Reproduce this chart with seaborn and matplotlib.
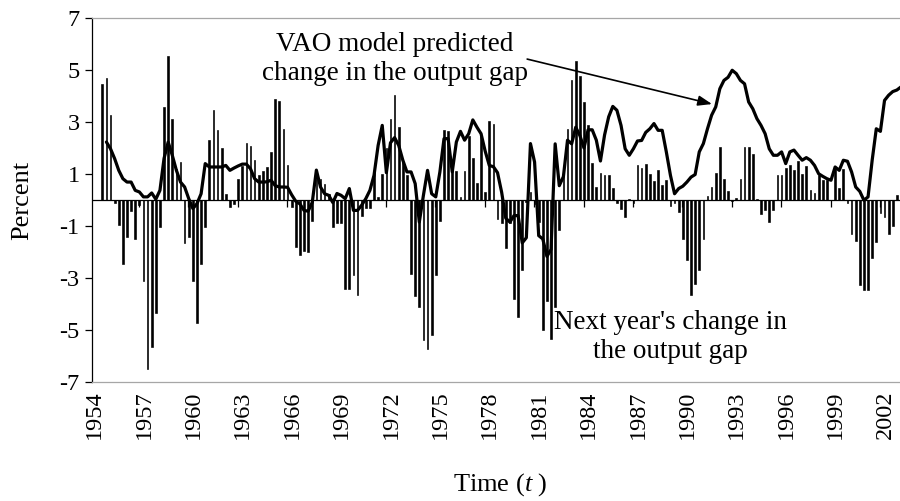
import numpy as np
import pandas as pd
import matplotlib
matplotlib.use("Agg")
import matplotlib.pyplot as plt
import seaborn as sns

nan = np.nan
# Quarterly series (index 0 = first quarter on the axis)
bars = [nan, 4.47, 4.69, 3.26, -0.1, -0.95, -2.45, -1.44, -0.41, -1.51,
        -0.2, -3.13, -6.49, -5.65, -4.35, -1.05, 3.56, 5.53, 3.13, 1.2,
        1.46, -1.65, -1.44, -3.13, -4.73, -2.45, -1.04, 2.29, 3.47, 2.68,
        2.0, 0.24, -0.27, -0.14, 0.82, 1.31, 2.2, 2.08, 1.53, 0.95,
        1.1, 1.27, 1.85, 3.88, 3.79, 2.74, 1.35, -0.28, -1.79, -2.12,
        -1.98, -2.0, -0.79, 0.8, 0.8, 0.62, 0.24, -1.04, -0.9, -0.9,
        -3.41, -3.41, -2.9, -3.64, -0.6, -0.3, -0.3, 1.08, 0.1, 1.0,
        2.0, 3.1, 4.05, 2.8, 1.46, 0.95, -2.83, -3.69, -4.12, -5.4,
        -5.72, -5.2, -2.9, -0.82, 2.68, 2.65, 1.4, 1.1, 0.1, 1.13,
        2.45, 1.6, 0.65, 2.5, 0.3, 3.03, 2.93, -0.73, -0.88, -1.86,
        -0.9, -3.8, -4.5, -2.7, -0.08, 0.3, -0.15, -0.85, -5.0, -3.9,
        -5.33, -4.1, -1.17, 1.0, 2.75, 4.62, 5.33, 4.78, 3.76, 2.9,
        1.42, 0.5, 1.02, 0.95, 0.95, 0.48, -0.1, -0.36, -0.65, 0.05,
        -0.1, 1.33, 1.23, 1.4, 1.0, 0.72, 1.17, 0.56, 0.76, -0.24,
        -0.1, -0.46, -1.49, -2.3, -3.67, -3.22, -2.7, -1.49, 0.15, 0.5,
        1.05, 2.04, 0.79, 0.33, -0.05, 0.08, 0.82, 2.04, 2.04, 1.78,
        0.02, -0.53, -0.4, -0.85, -0.4, 0.95, 0.95, 1.23, 1.33, 1.14,
        1.49, 1.0, 1.29, 0.4, 0.27, 0.95, 0.76, 0.76, 0.0, 1.2,
        0.47, 1.18, -0.1, -1.3, -1.58, -3.26, -3.45, -3.45, -2.23, -1.62,
        -0.49, -0.65, -1.31, -1.01, 0.18, 0.9]

vao = [nan, nan, 2.23, 1.97, 1.59, 1.14, 0.82, 0.69, 0.69, 0.37,
       0.31, 0.12, 0.12, 0.27, 0.03, 0.37, 1.6, 2.23, 1.72, 1.14,
       0.69, 0.5, 0.05, -0.33, -0.14, 0.24, 1.4, 1.27, 1.27, 1.27,
       1.27, 1.33, 1.14, 1.23, 1.31, 1.38, 1.38, 1.2, 0.82, 0.69,
       0.69, 0.7, 0.76, 0.55, 0.5, 0.5, 0.49, 0.2, -0.05, -0.15,
       -0.4, -0.43, -0.09, 1.15, 0.5, 0.24, 0.18, -0.1, 0.25, 0.18,
       0.05, 0.44, -0.4, -0.4, -0.2, 0.05, 0.37, 0.95, 2.1, 2.87,
       1.05, 2.2, 2.4, 2.1, 1.53, 1.08, 1.08, 0.63, -0.85, 0.18,
       1.14, 0.24, 0.12, 1.08, 2.36, 2.36, 1.08, 2.23, 2.64, 2.3,
       2.55, 3.08, 2.8, 2.55, 1.88, 1.33, 1.28, 1.05, 0.3, -0.7,
       -0.85, -0.6, -0.6, -1.65, -1.45, 2.17, 1.46, -1.37, -1.5, -2.17,
       -1.9, 2.16, 0.55, 0.9, 2.3, 2.16, 2.8, 2.48, 2.0, 2.7,
       2.7, 2.3, 1.5, 2.5, 3.2, 3.6, 3.45, 2.87, 1.97, 1.72,
       1.97, 2.27, 2.29, 2.6, 2.74, 2.94, 2.68, 2.68, 1.85, 0.95,
       0.24, 0.44, 0.53, 0.69, 0.88, 0.98, 1.85, 2.17, 2.74, 3.26,
       3.58, 4.28, 4.6, 4.72, 4.99, 4.86, 4.6, 4.47, 3.77, 3.51,
       3.13, 2.87, 2.55, 1.97, 1.72, 1.72, 1.85, 1.4, 1.85, 1.92,
       1.72, 1.53, 1.63, 1.53, 1.33, 1.01, 0.91, 0.82, 0.76, 1.27,
       1.14, 1.53, 1.49, 1.08, 0.5, 0.33, -0.01, 0.12, 1.53, 2.74,
       2.64, 3.83, 4.03, 4.17, 4.23, 4.35]

year_labels = ["1954", "1957", "1960", "1963", "1966", "1969", "1972", "1975",
               "1978", "1981", "1984", "1987", "1990", "1993", "1996", "1999", "2002"]
y_ticks = [-7, -5, -3, -1, 1, 3, 5, 7]

sns.set_theme(style="white")
plt.rcParams["font.family"] = ["Liberation Serif", "DejaVu Serif"]
plt.rcParams["mathtext.fontset"] = "custom"
plt.rcParams["mathtext.rm"] = "Liberation Serif"
plt.rcParams["mathtext.it"] = "Liberation Serif:italic"

df = pd.DataFrame({"q": np.arange(len(bars)), "gap": bars, "vao": vao})

fig = plt.figure(figsize=(9, 5.01), dpi=100, facecolor="white")
ax = fig.add_axes([92 / 900, 119 / 501, 813 / 900, 364 / 501])

sns.barplot(data=df.dropna(subset=["gap"]), x="q", y="gap", native_scale=True,
            color="black", saturation=1, width=0.42, linewidth=0.45,
            edgecolor="black", errorbar=None, ax=ax)
sns.lineplot(data=df.dropna(subset=["vao"]), x="q", y="vao", color="black",
             linewidth=2.3, errorbar=None, ax=ax)

ax.set_xlim(-1.5, -1.5 + 813 / 4.117)
ax.set_ylim(-7, 7)
ax.set_yticks(y_ticks)
ax.set_yticklabels([str(v) for v in y_ticks])

# zero (category) axis with tick marks every 12 quarters
ax.axhline(0, color="black", lw=0.9, zorder=3)
tick_q = [12 * m - 2.1 for m in range(1, len(year_labels))]
ax.vlines(tick_q, -0.27, 0, color="black", lw=0.9, zorder=3)

label_q = [12 * m - 0.9 for m in range(len(year_labels))]
ax.set_xticks(label_q)
ax.set_xticklabels(year_labels, rotation=90)
ax.tick_params(axis="x", length=0, pad=6, labelsize=17.5, colors="black")
ax.tick_params(axis="y", left=True, direction="out", length=5, width=0.9,
               color="black", labelsize=17.5, pad=4, labelcolor="black")

for s in ["top", "bottom"]:
    ax.spines[s].set_color("#a6a6a6")
    ax.spines[s].set_linewidth(0.9)
ax.spines["left"].set_color("black")
ax.spines["left"].set_linewidth(0.9)
ax.spines["right"].set_visible(False)
ax.grid(False)

ax.set_ylabel("Percent", fontsize=19, color="black")
ax.yaxis.set_label_coords(-0.0861, 0.5)
ax.yaxis.label.set_va("center")
ax.set_xlabel("Time ($\\mathit{t}$ )", fontsize=19, color="black")
ax.xaxis.set_label_coords(0.502, -0.283)
ax.xaxis.label.set_va("center")

ax.text(72.1, 5.42, "VAO model predicted\nchange in the output gap",
        ha="center", va="center", fontsize=19.5, color="black")
ax.annotate("", xy=(149.1, 3.69), xytext=(104.2, 5.42),
            arrowprops=dict(arrowstyle="-|>,head_length=0.6,head_width=0.22",
                            color="black", lw=1.2, shrinkA=0, shrinkB=0,
                            mutation_scale=14))
ax.text(138.9, -5.27, "Next year's change in\nthe output gap",
        ha="center", va="center", fontsize=19.5, color="black")

fig.savefig("out.png", dpi=100, facecolor="white")
